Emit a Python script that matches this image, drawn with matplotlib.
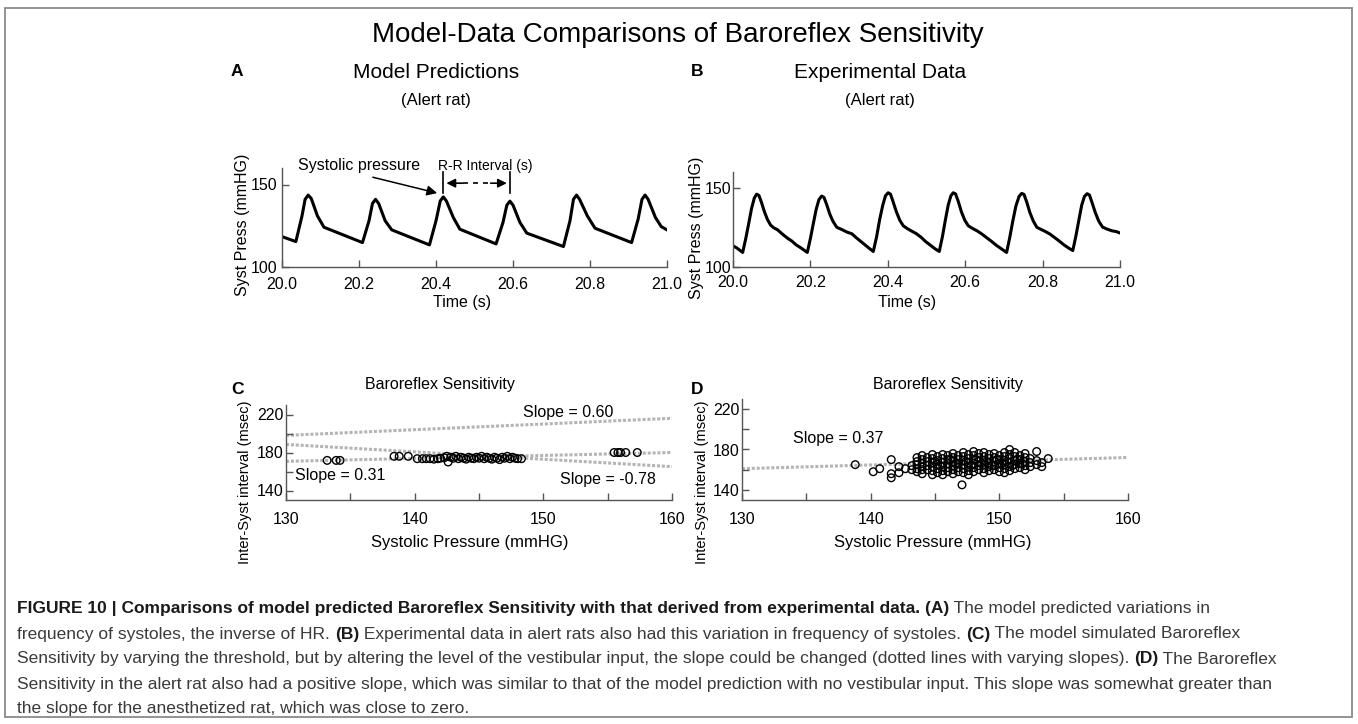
import numpy as np
import matplotlib.pyplot as plt
from matplotlib.patches import Rectangle

W, H = 1358, 724
plt.rcParams['font.family'] = ['Liberation Sans', 'DejaVu Sans']

# --- panel A: model systolic pressure trace ---
model_t = [20.000, 20.036, 20.052, 20.060, 20.068, 20.076, 20.092, 20.109,
           20.209, 20.226, 20.235, 20.243, 20.251, 20.268, 20.285,
           20.383, 20.400, 20.411, 20.419, 20.427, 20.445, 20.462,
           20.556, 20.574, 20.584, 20.592, 20.600, 20.618, 20.636,
           20.731, 20.748, 20.757, 20.765, 20.773, 20.793, 20.813,
           20.908, 20.925, 20.935, 20.943, 20.951, 20.970, 20.985, 21.000]
model_p = [118.4, 115.4, 131.0, 141.0, 143.6, 141.5, 131.0, 124.1,
           114.8, 128.0, 138.5, 141.0, 138.5, 128.0, 122.5,
           113.4, 128.0, 140.0, 142.5, 140.0, 130.0, 122.9,
           114.0, 127.0, 137.5, 139.9, 137.5, 127.0, 120.5,
           112.4, 128.0, 141.0, 143.6, 141.0, 131.0, 123.5,
           114.8, 129.0, 141.0, 143.6, 141.0, 130.0, 124.5, 122.5]

# --- panel B: recorded systolic pressure trace ---
exp_t = [20.000, 20.010, 20.018, 20.025, 20.033, 20.041, 20.048, 20.055, 20.061, 20.067,
         20.074, 20.081, 20.089, 20.097, 20.105, 20.115, 20.130, 20.142, 20.152, 20.163,
         20.174, 20.184, 20.192, 20.200, 20.208, 20.215, 20.222, 20.229, 20.235, 20.242,
         20.250, 20.258, 20.268, 20.280, 20.295, 20.307, 20.318, 20.330, 20.342, 20.352,
         20.3625, 20.371, 20.379, 20.387, 20.394, 20.401, 20.407, 20.414, 20.422, 20.431,
         20.440, 20.452, 20.463, 20.474, 20.486, 20.498, 20.510, 20.522, 20.533, 20.541,
         20.549, 20.556, 20.563, 20.569, 20.575, 20.582, 20.590, 20.599, 20.608, 20.620,
         20.631, 20.642, 20.655, 20.668, 20.681, 20.694, 20.707, 20.715, 20.723, 20.731,
         20.739, 20.746, 20.752, 20.759, 20.767, 20.776, 20.785, 20.797, 20.808, 20.819,
         20.831, 20.843, 20.855, 20.867, 20.878, 20.886, 20.894, 20.901, 20.908, 20.915,
         20.921, 20.928, 20.936, 20.945, 20.955, 20.967, 20.980, 20.990, 21.000]
exp_p = [113.4, 112.0, 110.5, 109.2, 118.0, 128.0, 137.0, 143.5, 146.0, 145.2,
         140.5, 135.0, 130.0, 126.5, 124.8, 123.5, 120.3, 118.0, 116.4, 114.0,
         112.3, 110.6, 109.2, 118.0, 128.0, 136.5, 142.5, 144.8, 144.0, 139.5,
         133.5, 129.0, 125.1, 123.8, 122.0, 121.0, 118.6, 116.2, 113.8, 111.8,
         109.8, 119.0, 130.0, 139.0, 145.0, 146.9, 146.0, 141.0, 135.0, 129.5,
         126.0, 124.0, 122.5, 121.0, 118.8, 116.0, 113.8, 111.5, 109.8, 119.0,
         130.0, 139.0, 145.0, 146.9, 146.2, 141.5, 135.0, 129.5, 126.0, 124.2,
         122.8, 121.0, 118.6, 116.2, 113.6, 111.4, 109.2, 118.5, 129.0, 138.5,
         144.5, 146.5, 145.8, 141.0, 134.5, 129.0, 125.1, 123.6, 122.3, 120.8,
         118.6, 116.4, 114.0, 112.0, 110.4, 119.5, 130.0, 139.0, 144.5, 146.3,
         145.5, 140.5, 134.5, 129.0, 125.2, 123.9, 122.8, 122.4, 121.5]

time_ticks = [20.0, 20.2, 20.4, 20.6, 20.8, 21.0]

# --- panel C: model baroreflex scatter ---
model_sp = [133.2, 133.9, 134.2, 138.4, 138.8, 139.5,
            140.2, 140.6, 140.9, 141.2, 141.5, 141.8, 142.0, 142.3, 142.5, 142.6,
            142.8, 143.0, 143.2, 143.4, 143.6, 143.8, 144.0, 144.2, 144.4, 144.6,
            144.8, 145.0, 145.2, 145.4, 145.6, 145.8, 146.0, 146.2, 146.4, 146.6,
            146.8, 147.0, 147.2, 147.4, 147.6, 147.8, 148.0, 148.3,
            155.5, 155.8, 156.0, 156.4, 157.3]
model_isi = [171.7, 171.7, 171.7, 176.0, 176.0, 176.0,
             173.5, 173.5, 173.5, 173.5, 173.0, 173.5, 174.0, 174.5, 176.0, 170.0,
             175.0, 174.0, 176.0, 173.5, 175.0, 174.0, 173.0, 175.0, 174.0, 173.5,
             175.0, 174.0, 176.0, 173.5, 175.0, 174.0, 173.0, 175.0, 174.0, 172.5,
             175.0, 174.0, 176.0, 173.5, 175.0, 174.0, 173.5, 173.5,
             180.0, 180.0, 180.0, 180.0, 180.0]
model_slopes = [0.60, -0.78, 0.31]
model_fit_at_130 = [198.0, 188.5, 170.7]

# --- panel D: recorded baroreflex scatter ---
exp_sp = [138.8, 140.2, 140.7, 141.6, 141.6, 141.6, 142.2, 142.2, 142.7,
          143.2, 143.2, 143.6, 143.6, 143.6, 143.6, 143.6,
          144.0, 144.0, 144.0, 144.0, 144.0, 144.0,
          144.4, 144.4, 144.4, 144.4,
          144.8, 144.8, 144.8, 144.8, 144.8, 144.8,
          145.2, 145.2, 145.2, 145.2, 145.2,
          145.6, 145.6, 145.6, 145.6, 145.6, 145.6,
          146.0, 146.0, 146.0, 146.0, 146.0,
          146.4, 146.4, 146.4, 146.4, 146.4, 146.4,
          146.8, 146.8, 146.8, 146.8, 146.8, 147.1,
          147.2, 147.2, 147.2, 147.2, 147.2, 147.2,
          147.6, 147.6, 147.6, 147.6, 147.6, 147.6,
          148.0, 148.0, 148.0, 148.0, 148.0, 148.0,
          148.4, 148.4, 148.4, 148.4, 148.4,
          148.8, 148.8, 148.8, 148.8, 148.8, 148.8,
          149.2, 149.2, 149.2, 149.2, 149.2,
          149.6, 149.6, 149.6, 149.6, 149.6,
          150.0, 150.0, 150.0, 150.0, 150.0,
          150.4, 150.4, 150.4, 150.4, 150.4, 150.4,
          150.8, 150.8, 150.8, 150.8, 150.8, 150.8,
          151.2, 151.2, 151.2, 151.2, 151.2,
          151.6, 151.6, 151.6, 151.6,
          152.0, 152.0, 152.0, 152.0, 152.0,
          152.4, 152.4, 152.4, 152.9, 152.9, 152.9,
          153.3, 153.3, 153.8,
          145.0, 145.4, 146.2, 146.6, 147.4, 147.8, 148.2, 148.6, 149.0, 149.4,
          149.8, 150.2, 150.6, 151.0, 151.4, 151.8]
exp_isi = [165, 158, 161, 170, 156, 152, 163, 157, 161,
           160, 164, 172, 168, 165, 161, 158,
           174, 170, 166, 163, 160, 156,
           172, 168, 164, 160,
           175, 171, 167, 163, 159, 155,
           173, 169, 165, 161, 157,
           175, 171, 167, 163, 159, 155,
           174, 170, 166, 162, 158,
           176, 172, 168, 164, 160, 156,
           174, 170, 166, 162, 158, 145,
           177, 173, 169, 165, 161, 157,
           175, 171, 167, 163, 159, 155,
           178, 174, 170, 166, 162, 158,
           176, 172, 168, 164, 160,
           177, 173, 169, 165, 161, 157,
           175, 171, 167, 163, 159,
           176, 172, 168, 164, 160,
           174, 170, 166, 162, 158,
           177, 173, 169, 165, 161, 157,
           180, 175, 171, 167, 163, 159,
           177, 173, 169, 165, 161,
           174, 170, 166, 162,
           176, 172, 168, 164, 160,
           171, 167, 163, 178, 169, 165,
           167, 163, 171,
           168, 164, 170, 166, 168, 164, 170, 166, 168, 164,
           170, 166, 168, 164, 170, 166]
exp_slope = 0.37
exp_fit_at_130 = 161.0

press_ticks = [130, 135, 140, 145, 150, 155, 160]
press_labels = ['130', '', '140', '', '150', '', '160']
isi_ticks = [140, 160, 180, 200, 220]
isi_labels = ['140', '', '180', '', '220']

caption = [
    [('FIGURE 10 | Comparisons of model predicted Baroreflex Sensitivity with that derived from experimental data. (A)', True),
     (' The model predicted variations in', False)],
    [('frequency of systoles, the inverse of HR. ', False), ('(B)', True),
     (' Experimental data in alert rats also had this variation in frequency of systoles. ', False),
     ('(C)', True), (' The model simulated Baroreflex', False)],
    [('Sensitivity by varying the threshold, but by altering the level of the vestibular input, '
      'the slope could be changed (dotted lines with varying slopes). ', False), ('(D)', True),
     (' The Baroreflex', False)],
    [('Sensitivity in the alert rat also had a positive slope, which was similar to that of the model '
      'prediction with no vestibular input. This slope was somewhat greater than', False)],
    [('the slope for the anesthetized rat, which was close to zero.', False)],
]


def fx(x):
    return x / W


def fy(y):
    return 1 - y / H


def style_axes(ax):
    for side in ['top', 'right']:
        ax.spines[side].set_visible(False)
    for side in ['left', 'bottom']:
        ax.spines[side].set_color('#555555')
        ax.spines[side].set_linewidth(1.0)
    ax.tick_params(direction='in', length=5, width=1, color='#555555', labelsize=11.5)


fig = plt.figure(figsize=(W / 100, H / 100), dpi=100)
fig.patches.append(Rectangle((fx(5), fy(717)), (1352 - 5) / W, (717 - 8) / H,
                             transform=fig.transFigure, fill=False,
                             edgecolor='#8a8a8a', linewidth=1.3))

fig.text(fx(678), fy(35), 'Model-Data Comparisons of Baroreflex Sensitivity',
         ha='center', va='center', fontsize=20)
fig.text(fx(436), fy(72), 'Model Predictions', ha='center', va='center', fontsize=15)
fig.text(fx(436), fy(100), '(Alert rat)', ha='center', va='center', fontsize=12)
fig.text(fx(880), fy(72), 'Experimental Data', ha='center', va='center', fontsize=15)
fig.text(fx(880), fy(100), '(Alert rat)', ha='center', va='center', fontsize=12)
for letter, (lx, ly) in zip('ABCD', [(237, 72), (697, 72), (237, 390), (697, 390)]):
    fig.text(fx(lx), fy(ly), letter, ha='center', va='center', fontsize=12.5, fontweight='bold')

# A
axA = fig.add_axes([fx(282), fy(267), 385 / W, 99 / H])
axA.plot(model_t, model_p, color='black', lw=2.2, solid_joinstyle='round')
axA.set_xlim(20, 21)
axA.set_ylim(100, 160)
axA.set_xticks(time_ticks)
axA.set_xticklabels([f'{v:.1f}' for v in time_ticks])
axA.set_yticks([100, 150])
style_axes(axA)
axA.tick_params(axis='x', pad=7)
axA.tick_params(axis='y', pad=3)
fig.text(fx(462), fy(303), 'Time (s)', ha='center', va='center', fontsize=11.5)
fig.text(fx(242), fy(225), 'Syst Press (mmHG)', ha='center', va='center', rotation=90, fontsize=11.5)

# mark the R-R interval between the third and fourth model peaks
peak_a = model_t[model_p.index(142.5)]
peak_b = model_t[model_p.index(139.9)]
for tp in [peak_a, peak_b]:
    axA.plot([tp, tp], [144.8, 157.4], color='black', lw=1.2, clip_on=False)
y_rr = 150.8
axA.annotate('', xy=(peak_a + 0.008, y_rr), xytext=(peak_a + 0.05, y_rr),
             arrowprops=dict(arrowstyle='-|>', color='black', lw=1.2, mutation_scale=13,
                             shrinkA=0, shrinkB=0), annotation_clip=False)
axA.annotate('', xy=(peak_b - 0.008, y_rr), xytext=(peak_b - 0.05, y_rr),
             arrowprops=dict(arrowstyle='-|>', color='black', lw=1.2, mutation_scale=13,
                             shrinkA=0, shrinkB=0), annotation_clip=False)
axA.plot([peak_a + 0.05, peak_b - 0.05], [y_rr, y_rr], color='black', lw=1.2,
         ls=(0, (3, 3)), clip_on=False)
axA.text(20.527, 161.5, 'R-R Interval (s)', ha='center', va='center', fontsize=10)
axA.text(20.201, 161.6, 'Systolic pressure', ha='center', va='center', fontsize=11.5)
axA.annotate('', xy=(peak_a - 0.016, 144.8), xytext=(20.236, 154.4),
             arrowprops=dict(arrowstyle='-|>', color='black', lw=1.1, mutation_scale=15,
                             shrinkA=0, shrinkB=0), annotation_clip=False)

# B
axB = fig.add_axes([fx(733), fy(267), 387 / W, 95 / H])
axB.plot(exp_t, exp_p, color='black', lw=2.2, solid_joinstyle='round')
axB.set_xlim(20, 21)
axB.set_ylim(100, 160)
axB.set_xticks(time_ticks)
axB.set_xticklabels([f'{v:.1f}' for v in time_ticks])
axB.set_yticks([100, 150])
style_axes(axB)
axB.tick_params(axis='x', pad=6)
axB.tick_params(axis='y', pad=1)
fig.text(fx(907), fy(302), 'Time (s)', ha='center', va='center', fontsize=11.5)
fig.text(fx(697), fy(228), 'Syst Press (mmHG)', ha='center', va='center', rotation=90, fontsize=11.5)


def baro_axes(rect, title_x, label_x, ylabel_x):
    ax = fig.add_axes(rect)
    ax.set_xlim(130, 160)
    ax.set_ylim(130, 230)
    ax.set_xticks(press_ticks)
    ax.set_xticklabels(press_labels)
    ax.set_yticks(isi_ticks)
    ax.set_yticklabels(isi_labels)
    style_axes(ax)
    ax.tick_params(axis='x', pad=9)
    ax.tick_params(axis='y', pad=2)
    fig.text(fx(title_x), fy(384), 'Baroreflex Sensitivity', ha='center', va='center', fontsize=11.5)
    fig.text(fx(label_x), fy(543), 'Systolic Pressure (mmHG)', ha='center', va='center', fontsize=12)
    fig.text(fx(ylabel_x), fy(482), 'Inter-Syst interval (msec)', ha='center', va='center',
             rotation=90, fontsize=10.5)
    return ax


line_x = np.array([130, 160])
dotted = dict(color='#b4b4b4', lw=2.2, ls=(0, (1, 0.6)), zorder=1)
circ = dict(s=30, facecolors='none', edgecolors='black', linewidths=1.0, zorder=3)

# C
axC = baro_axes([fx(286), fy(500), 386 / W, 95 / H], 440, 470, 245)
for slope, y0 in zip(model_slopes, model_fit_at_130):
    axC.plot(line_x, y0 + slope * (line_x - 130), **dotted)
axC.scatter(model_sp, model_isi, **circ)
for slope, (tx, ty) in zip(model_slopes, [(151.9, 222.4), (155.0, 151.7), (134.2, 155.9)]):
    axC.text(tx, ty, f'Slope = {slope:.2f}', ha='center', va='center', fontsize=11.5)

# D
axD = baro_axes([fx(742), fy(500), 386 / W, 101 / H], 948, 933, 702)
axD.plot(line_x, exp_fit_at_130 + exp_slope * (line_x - 130), **dotted)
axD.scatter(exp_sp, exp_isi, **circ)
axD.text(137.5, 190.5, f'Slope = {exp_slope:.2f}', ha='center', va='center', fontsize=11.5)

# caption, with bold runs placed after regular runs on the same line
fig.canvas.draw()
renderer = fig.canvas.get_renderer()
cap_family = ['Liberation Sans Narrow', 'Liberation Sans']
for row, line_y in zip(caption, [608, 634, 659, 684, 709]):
    x = fx(17)
    for chunk, bold in row:
        t = fig.text(x, fy(line_y), chunk, ha='left', va='center', fontsize=12.5,
                     family=cap_family, fontweight='bold' if bold else 'normal',
                     color='#1a1a1a' if bold else '#3a3a3a')
        x += t.get_window_extent(renderer).width / W

fig.savefig('out.png', dpi=100)
